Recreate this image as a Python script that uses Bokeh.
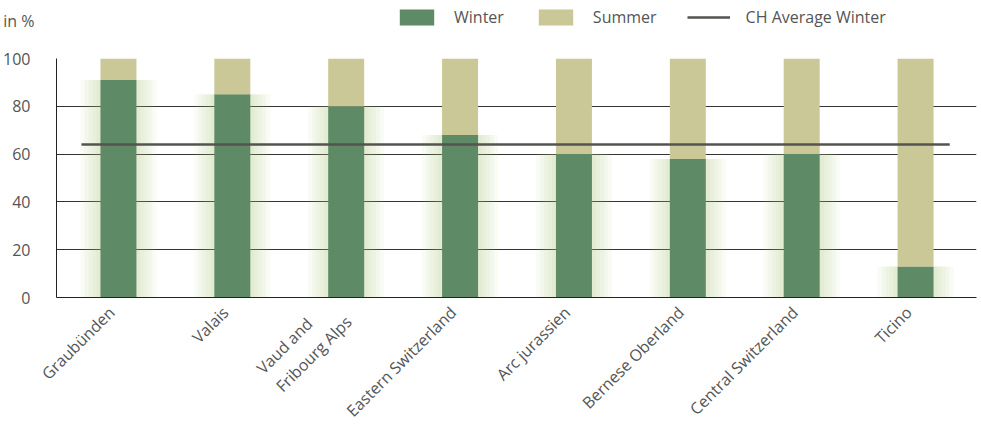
from bokeh.plotting import figure
from bokeh.layouts import column
from bokeh.models import Legend, LegendItem, FixedTicker, Range1d, ColumnDataSource
from bokeh.embed import file_html
from bokeh.resources import INLINE
import math

regions = ["Graubünden", "Valais", "Vaud and\u00a0\u00a0\u00a0\u00a0\u00a0\u00a0\u00a0\nFribourg Alps",
           "Eastern Switzerland", "Arc jurassien", "Bernese Oberland", "Central Switzerland", "Ticino"]
winter = [91, 85, 80, 68, 60, 58, 60, 13]
summer = [100 - w for w in winter]
ch_average_winter = 64
y_ticks = [0, 20, 40, 60, 80, 100]

FONT = "Open Sans"
TXT = "#555555"
WINTER_C = "#5e8a65"
SUMMER_C = "#c9c896"
AVG_C = "#555350"
GLOW_C = "#a9cc70"

# ---------- header (legend + unit) ----------
HEAD_H = 46
head = figure(width=981, height=HEAD_H, output_backend="svg", toolbar_location=None,
              x_range=Range1d(0, 921), y_range=Range1d(0, 40), x_axis_type=None,
              min_border_left=55, min_border_right=5, min_border_top=0, min_border_bottom=6)
head.outline_line_color = None
head.xgrid.grid_line_color = None
head.ygrid.grid_line_color = None
head.yaxis.ticker = FixedTicker(ticks=[])
head.yaxis.axis_line_color = None
head.yaxis.major_tick_line_color = None
head.yaxis.minor_tick_line_color = None
head.yaxis.axis_label = "in %"
head.yaxis.axis_label_orientation = "horizontal"
head.yaxis.axis_label_text_font = FONT
head.yaxis.axis_label_text_font_size = "16px"
head.yaxis.axis_label_text_font_style = "normal"
head.yaxis.axis_label_text_color = TXT
head.yaxis.axis_label_standoff = 22

hw = head.vbar(x=[-1e6], top=[0], width=1, color=WINTER_C, line_color=None)
hs = head.vbar(x=[-1e6], top=[0], width=1, color=SUMMER_C, line_color=None)
hl = head.line(x=[-1e6, -1e6 + 1], y=[0, 0], line_color=AVG_C, line_width=2.5)
legend = Legend(items=[LegendItem(label="Winter", renderers=[hw]),
                       LegendItem(label="Summer", renderers=[hs]),
                       LegendItem(label="CH Average Winter", renderers=[hl])],
                orientation="horizontal", location=(339, 12),
                glyph_width=43, glyph_height=20, label_standoff=16, spacing=30,
                padding=0, margin=0, border_line_alpha=0, background_fill_alpha=0,
                label_text_font=FONT, label_text_font_size="16px", label_text_color=TXT)
head.add_layout(legend, "center")

# ---------- main chart ----------
xs = list(range(len(regions)))
src = ColumnDataSource(dict(x=xs, winter=winter, summer=summer))

p = figure(width=981, height=432 - HEAD_H, output_backend="svg", toolbar_location=None,
           x_range=Range1d(-0.544, 7.535), y_range=Range1d(0, 100),
           min_border_left=55, min_border_right=5, min_border_top=12, min_border_bottom=132)
p.outline_line_color = None

# soft green glow behind the winter bars (layered, widest first)
for w in [0.667, 0.596, 0.526, 0.456, 0.386]:
    p.vbar(x="x", top="winter", width=w, source=src, color=GLOW_C, alpha=0.07, line_color=None)

p.vbar_stack(["winter", "summer"], x="x", width=0.316, source=src,
             color=[WINTER_C, SUMMER_C], line_color=None)

p.segment(x0=[-0.325], x1=[7.30], y0=[ch_average_winter], y1=[ch_average_winter],
          line_color=AVG_C, line_width=2.5)

p.xgrid.grid_line_color = None
p.ygrid.grid_line_color = "#333333"
p.ygrid.grid_line_width = 1
p.ygrid.ticker = FixedTicker(ticks=y_ticks)
p.ygrid.level = "underlay"

p.yaxis.ticker = FixedTicker(ticks=y_ticks)
p.yaxis.axis_line_color = "#222222"
p.yaxis.major_tick_line_color = None
p.yaxis.minor_tick_line_color = None
p.yaxis.major_label_text_font = FONT
p.yaxis.major_label_text_font_size = "16px"
p.yaxis.major_label_text_color = TXT
p.yaxis.major_label_standoff = 20

# label anchors slightly left of the bar centres, as in the original
label_pos = [x - 0.06 for x in xs]
p.xaxis.ticker = FixedTicker(ticks=label_pos)
p.xaxis.major_label_overrides = {lp: r for lp, r in zip(label_pos, regions)}
p.xaxis.axis_line_color = "#222222"
p.xaxis.major_tick_line_color = None
p.xaxis.minor_tick_line_color = None
p.xaxis.major_label_orientation = math.pi / 4
p.xaxis.major_label_text_font = FONT
p.xaxis.major_label_text_font_size = "16px"
p.xaxis.major_label_text_color = TXT
p.xaxis.major_label_standoff = 6

layout = column(head, p, spacing=0)
open("out.html", "w").write(file_html(layout, INLINE))
